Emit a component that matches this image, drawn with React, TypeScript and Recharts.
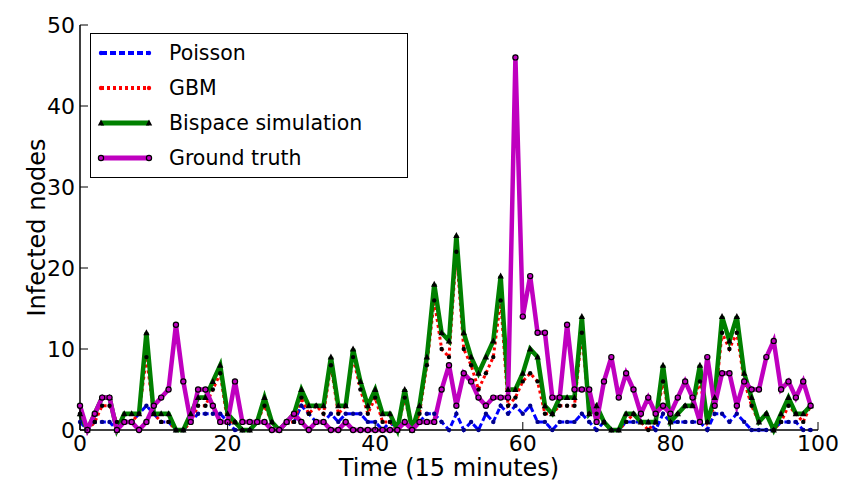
import { Line, LineChart, XAxis, YAxis, Legend } from "recharts";

const poisson = [
  1, 0, 1, 1, 1, 0, 1, 1, 2, 3, 2, 1, 1, 0, 0, 1, 2, 2, 2, 2,
  1, 0, 0, 0, 1, 1, 0, 0, 1, 1, 3, 2, 1, 1, 2, 1, 2, 2, 2, 1,
  1, 0, 1, 0, 1, 0, 1, 2, 2, 1, 0, 2, 0, 1, 0, 2, 1, 3, 2, 3,
  2, 3, 1, 1, 0, 1, 1, 1, 2, 1, 0, 1, 0, 0, 1, 1, 1, 1, 0, 2,
  1, 1, 1, 1, 1, 0, 2, 2, 1, 2, 1, 0, 0, 0, 0, 1, 1, 1, 0, 0,
];
const gbm = [
  2, 0, 1, 3, 3, 1, 1, 1, 2, 9, 2, 1, 1, 0, 0, 1, 3, 3, 5, 7,
  1, 1, 0, 0, 1, 3, 1, 0, 1, 1, 4, 2, 3, 2, 8, 2, 3, 9, 5, 2,
  4, 1, 1, 0, 4, 0, 2, 8, 16, 10, 9, 22, 10, 8, 5, 7, 9, 16, 3, 4,
  6, 7, 6, 2, 2, 3, 3, 3, 12, 2, 2, 1, 0, 0, 1, 2, 1, 0, 1, 6,
  1, 2, 3, 3, 6, 1, 3, 12, 10, 12, 6, 3, 1, 2, 0, 1, 3, 2, 1, 3,
];
const bispace = [
  2, 0, 2, 4, 4, 0, 2, 2, 2, 12, 2, 2, 2, 0, 0, 2, 4, 4, 6, 8,
  2, 1, 0, 0, 1, 4, 1, 0, 1, 2, 5, 3, 3, 3, 9, 3, 3, 10, 6, 3,
  5, 2, 2, 0, 5, 0, 3, 9, 18, 12, 11, 24, 12, 9, 7, 9, 11, 19, 5, 5,
  7, 10, 9, 3, 2, 4, 4, 4, 14, 2, 3, 1, 0, 0, 2, 2, 1, 1, 1, 8,
  1, 2, 3, 3, 8, 1, 4, 14, 11, 14, 7, 4, 1, 2, 0, 2, 4, 2, 2, 3,
];
const groundTruth = [
  3, 0, 2, 4, 4, 0, 1, 1, 0, 1, 3, 4, 5, 13, 6, 1, 5, 5, 3, 1,
  1, 6, 1, 1, 1, 1, 0, 0, 1, 2, 1, 0, 1, 1, 0, 0, 1, 0, 0, 0,
  0, 0, 0, 0, 1, 0, 1, 1, 1, 5, 8, 3, 7, 6, 4, 3, 4, 4, 4, 46,
  14, 19, 12, 12, 4, 4, 13, 5, 5, 5, 1, 6, 9, 4, 7, 5, 2, 4, 2, 3,
  2, 4, 6, 4, 1, 9, 3, 7, 7, 3, 6, 5, 5, 9, 11, 5, 6, 4, 6, 3,
];
const xTicks = [0, 20, 40, 60, 80, 100];
const yTicks = [0, 10, 20, 30, 40, 50];

const data = groundTruth.map((_, i) => ({
  t: i,
  poisson: poisson[i],
  gbm: gbm[i],
  bispace: bispace[i],
  truth: groundTruth[i],
}));

const FONT = "DejaVu Sans, sans-serif";

const BottomTick = (p: any) => (
  <g>
    <line x1={p.x} y1={p.y} x2={p.x} y2={p.y - 8} stroke="#000" />
    <text x={p.x} y={p.y + 21} textAnchor="middle" fontSize={22} fontFamily={FONT} fill="#000">
      {p.payload.value}
    </text>
  </g>
);
const TopTick = (p: any) => (
  <line x1={p.x} y1={p.y} x2={p.x} y2={p.y + 8} stroke="#000" />
);
const LeftTick = (p: any) => (
  <g>
    <line x1={p.x} y1={p.y} x2={p.x + 8} y2={p.y} stroke="#000" />
    <text x={p.x - 5} y={p.y + 8} textAnchor="end" fontSize={22} fontFamily={FONT} fill="#000">
      {p.payload.value}
    </text>
  </g>
);
const RightTick = (p: any) => (
  <line x1={p.x} y1={p.y} x2={p.x - 8} y2={p.y} stroke="#000" />
);

const smallDot = (color: string) => (p: any) =>
  <circle key={p.index} cx={p.cx} cy={p.cy} r={2.2} fill={color} />;
const triDot = (p: any) => (
  <path
    key={p.index}
    d={`M${p.cx},${p.cy - 3.5} L${p.cx + 3.2},${p.cy + 2.5} L${p.cx - 3.2},${p.cy + 2.5} Z`}
    fill="#000"
  />
);
const ringDot = (p: any) => (
  <circle key={p.index} cx={p.cx} cy={p.cy} r={2.6} fill="#bf00bf" stroke="#000" strokeWidth={1.2} />
);

const legendItems = [
  { label: "Poisson", color: "#0000ff", dash: "6 3", width: 4, marker: "dot" },
  { label: "GBM", color: "#ff0000", dash: "3 3", width: 4, marker: "dot" },
  { label: "Bispace simulation", color: "#008000", dash: "", width: 5, marker: "tri" },
  { label: "Ground truth", color: "#bf00bf", dash: "", width: 5, marker: "ring" },
];

const LegendBox = () => (
  <div
    style={{
      position: "absolute",
      left: 90,
      top: 33,
      width: 318,
      height: 145,
      border: "1.5px solid #000",
      background: "#fff",
      boxSizing: "border-box",
    }}
  >
    <svg width={318} height={145}>
      {legendItems.map((it, i) => {
        const y = 19 + i * 35;
        return (
          <g key={it.label}>
            <line x1={10} y1={y} x2={58} y2={y} stroke={it.color} strokeWidth={it.width} strokeDasharray={it.dash || undefined} />
            {it.marker === "dot" && (
              <>
                <circle cx={10} cy={y} r={2.2} fill={it.color} />
                <circle cx={58} cy={y} r={2.2} fill={it.color} />
              </>
            )}
            {it.marker === "tri" && (
              <>
                <path d={`M10,${y - 3.5} L13.2,${y + 2.5} L6.8,${y + 2.5} Z`} fill="#000" />
                <path d={`M58,${y - 3.5} L61.2,${y + 2.5} L54.8,${y + 2.5} Z`} fill="#000" />
              </>
            )}
            {it.marker === "ring" && (
              <>
                <circle cx={10} cy={y} r={2.6} fill={it.color} stroke="#000" strokeWidth={1.2} />
                <circle cx={58} cy={y} r={2.6} fill={it.color} stroke="#000" strokeWidth={1.2} />
              </>
            )}
            <text x={78} y={y + 7} fontSize={20.5} fontFamily={FONT} fill="#000">
              {it.label}
            </text>
          </g>
        );
      })}
    </svg>
  </div>
);

export default function App() {
  return (
    <div style={{ position: "absolute", left: 0, top: 0, width: 851, height: 482, background: "#fff" }}>
      <LineChart width={851} height={482} data={data} margin={{ top: 25, right: 33, bottom: 0, left: 20 }}>
        <XAxis
          dataKey="t"
          type="number"
          domain={[0, 100]}
          ticks={xTicks}
          height={52}
          tickLine={false}
          tickSize={0}
          tickMargin={0}
          tick={BottomTick}
          stroke="#000"
          axisLine={{ stroke: "#000", strokeWidth: 1.5 }}
          label={{ value: "Time (15 minutes)", position: "insideBottom", offset: 6, fontSize: 24, fontFamily: FONT, fill: "#000" }}
        />
        <XAxis
          xAxisId="top"
          orientation="top"
          dataKey="t"
          type="number"
          domain={[0, 100]}
          ticks={xTicks}
          height={0}
          tickLine={false}
          tickSize={0}
          tickMargin={0}
          tick={TopTick}
          axisLine={{ stroke: "#000", strokeWidth: 1.5 }}
        />
        <YAxis
          type="number"
          domain={[0, 50]}
          ticks={yTicks}
          width={60}
          tickLine={false}
          tickSize={0}
          tickMargin={0}
          tick={LeftTick}
          axisLine={{ stroke: "#000", strokeWidth: 1.5 }}
          label={{ value: "Infected nodes", angle: -90, position: "insideLeft", offset: 16, fontSize: 24, fontFamily: FONT, fill: "#000", style: { textAnchor: "middle" } }}
        />
        <YAxis
          yAxisId="right"
          orientation="right"
          type="number"
          domain={[0, 50]}
          ticks={yTicks}
          width={0}
          tickLine={false}
          tickSize={0}
          tickMargin={0}
          tick={RightTick}
          axisLine={{ stroke: "#000", strokeWidth: 1.5 }}
        />
        <Legend content={() => null} />
        <Line type="linear" dataKey="poisson" stroke="#0000ff" strokeWidth={3} strokeDasharray="6 3" dot={smallDot("#00008b")} activeDot={false} isAnimationActive={false} />
        <Line type="linear" dataKey="gbm" stroke="#ff0000" strokeWidth={3} strokeDasharray="3 3" dot={smallDot("#000")} activeDot={false} isAnimationActive={false} />
        <Line type="linear" dataKey="bispace" stroke="#008000" strokeWidth={4.5} dot={triDot} activeDot={false} isAnimationActive={false} />
        <Line type="linear" dataKey="truth" stroke="#bf00bf" strokeWidth={4.5} dot={ringDot} activeDot={false} isAnimationActive={false} />
      </LineChart>
      <LegendBox />
    </div>
  );
}
